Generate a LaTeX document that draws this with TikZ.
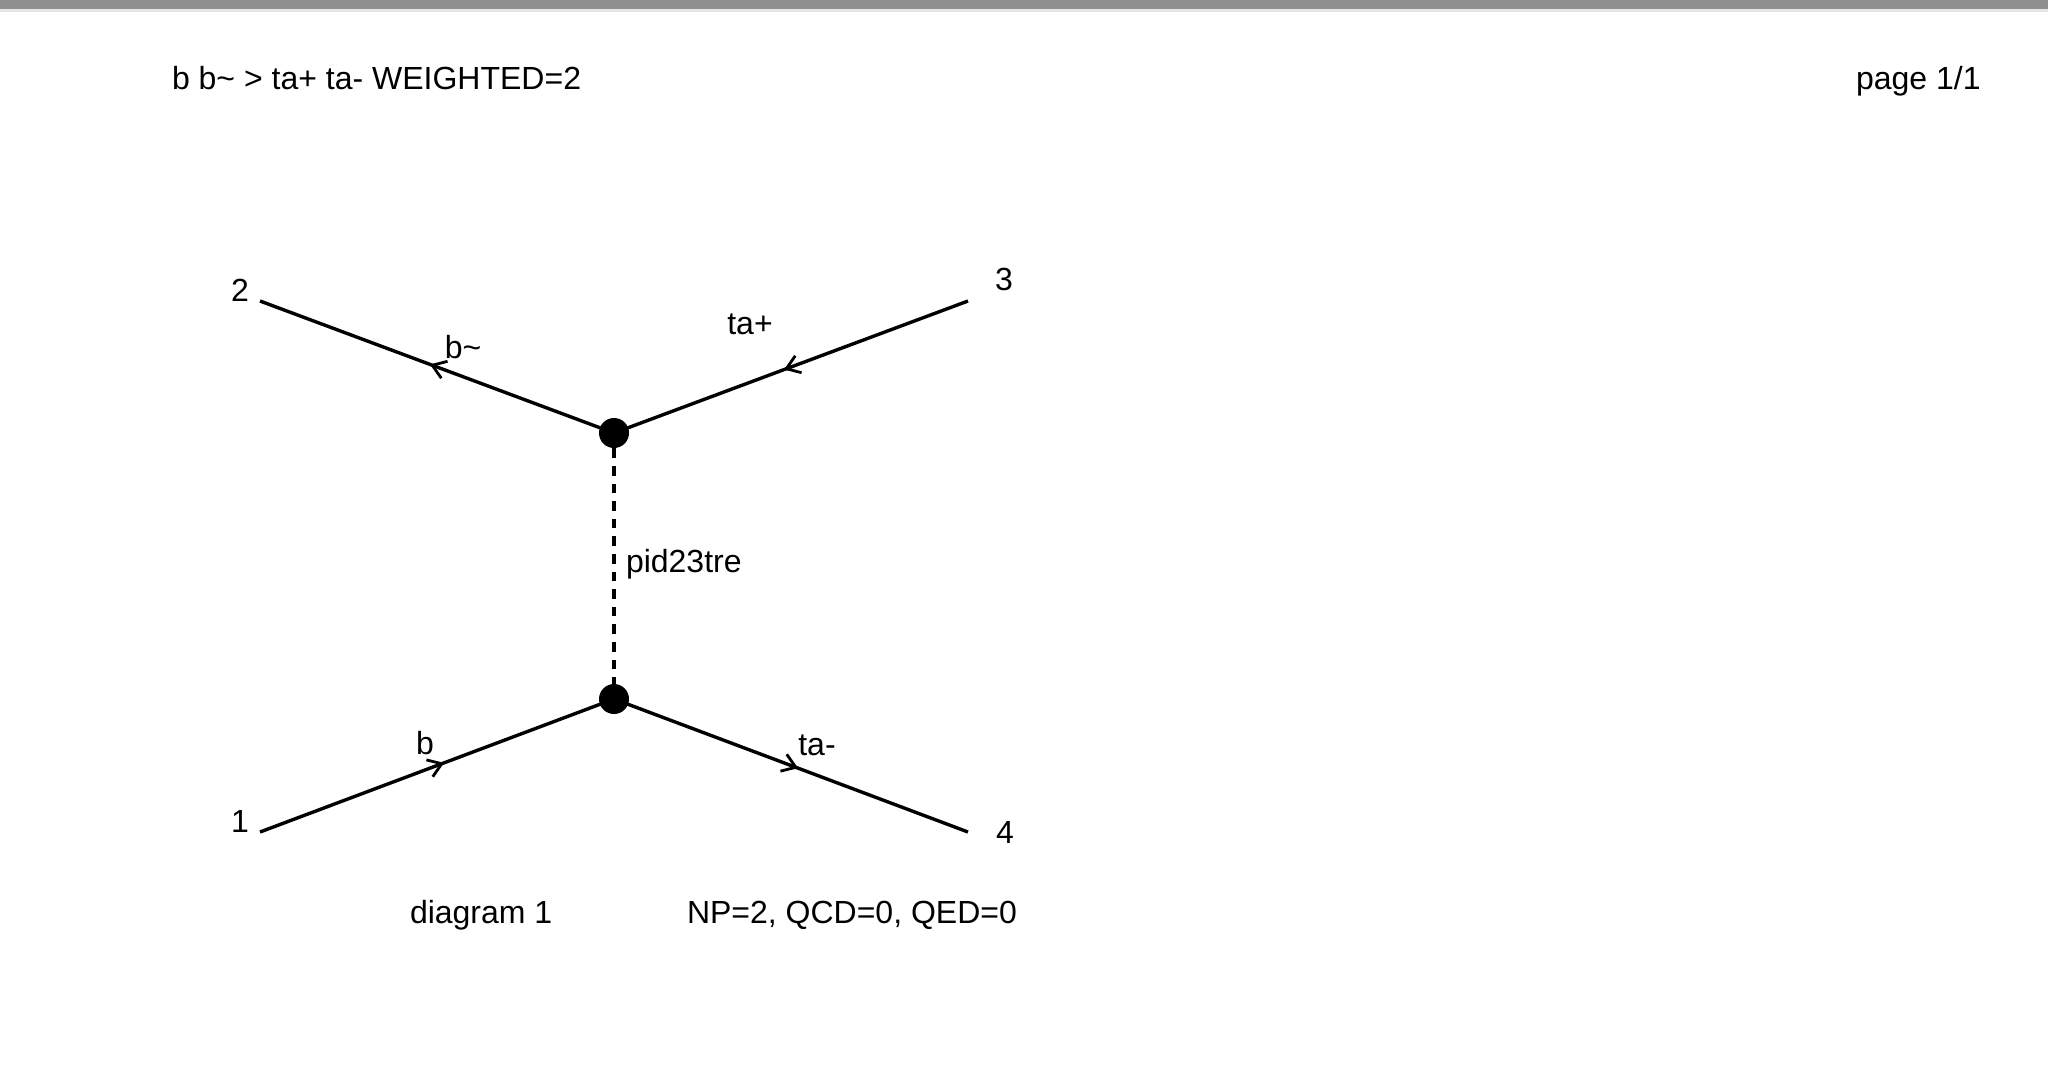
\documentclass[tikz,border=0pt]{standalone}
\usepackage{fontspec}
\setmainfont{Liberation Sans}
\usetikzlibrary{arrows.meta,decorations.markings}
\definecolor{barc}{RGB}{143,143,143}
\definecolor{barl}{RGB}{230,230,230}
\begin{document}
\begin{tikzpicture}[x=0.5pt,y=-0.5pt,
  txt/.style={font=\fontsize{16}{19}\selectfont, inner sep=0pt, outer sep=0pt},
  leg/.style={line width=1.7pt},
  vtx/.style={circle, fill=black, minimum size=15pt, inner sep=0pt},
  midarrow/.style={postaction={decorate}, decoration={markings, mark=at position 0.52 with {\arrow{Straight Barb[length=6.5pt,width=9pt,line width=1.4pt]}}}},
  prop/.style={line width=1.7pt, dash pattern=on 4.8pt off 4pt}]
\useasboundingbox (0,0) rectangle (2048,1076);
\fill[white] (0,0) rectangle (2048,1076);
\fill[barc] (0,0) rectangle (2048,9);
\fill[barl] (0,9) rectangle (2048,12);

% header
\node[txt, anchor=base west] (title) at (172,89.5) {b b\textasciitilde{} > ta+ ta- WEIGHTED=2};
\node[txt, anchor=base west] (page) at (1856,89.5) {page 1/1};

% external points
\coordinate (p1) at (260,832);
\coordinate (p2) at (260,301);
\coordinate (p3) at (968,301);
\coordinate (p4) at (968,832);

% vertices
\node[vtx] (v1) at (614,433) {};
\node[vtx] (v2) at (614,699) {};

% legs
\draw[leg, midarrow] (v1.center) -- (p2);
\draw[leg, midarrow] (p3) -- (v1.center);
\draw[leg, midarrow] (p1) -- (v2.center);
\draw[leg, midarrow] (v2.center) -- (p4);
\draw[prop] (v1) -- (v2);

% leg numbers
\node[txt, anchor=base] (l2) at (240,301) {2};
\node[txt, anchor=base] (l3) at (1004,290) {3};
\node[txt, anchor=base] (l1) at (240,832) {1};
\node[txt, anchor=base] (l4) at (1005,843) {4};

% particle labels
\node[txt, anchor=base] (tb) at (463,358) {b\textasciitilde};
\node[txt, anchor=base] (tp) at (750,334) {ta+};
\node[txt, anchor=base] (bb) at (425,754) {b};
\node[txt, anchor=base] (tm) at (817,755) {ta-};
\node[txt, anchor=base west] (pid) at (626,572) {pid23tre};

% footer
\node[txt, anchor=base west] (dg) at (410,923) {diagram 1};
\node[txt, anchor=base west] (cp) at (687,923) {NP=2, QCD=0, QED=0};
\end{tikzpicture}
\end{document}
